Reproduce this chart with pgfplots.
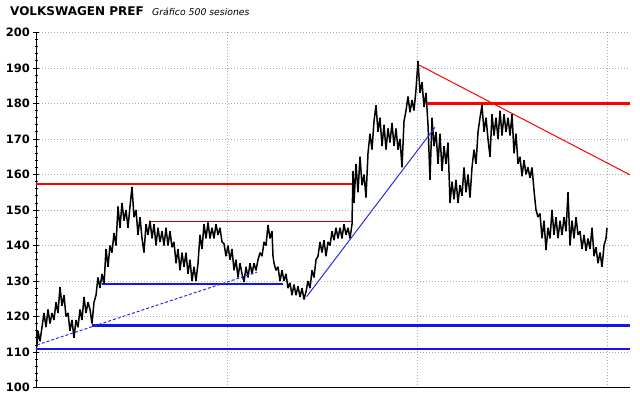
\documentclass[border=0pt]{standalone}
\usepackage{pgfplots}
\pgfplotsset{compat=1.18}
\usepackage{fontspec}
\setmainfont{DejaVu Sans}
\definecolor{gridc}{RGB}{170,170,195}
\definecolor{lblue}{RGB}{40,40,240}
\definecolor{hblue}{RGB}{20,20,235}
\definecolor{dred}{RGB}{205,0,0}
\begin{document}
\begin{tikzpicture}[x=1bp,y=1bp]
\useasboundingbox (0,0) rectangle (640,398);
\node[anchor=base west,inner sep=0pt,font=\fontsize{12bp}{14bp}\selectfont\bfseries] at (10,383) {VOLKSWAGEN PREF};
\node[anchor=base west,inner sep=0pt,font=\fontsize{9.3bp}{11bp}\selectfont\itshape] at (152,383) {Gráfico 500 sesiones};
\begin{axis}[at={(36bp,10.5bp)}, anchor=south west, scale only axis,
  width=594bp, height=355bp,
  xmin=36, xmax=630, ymin=100, ymax=200,
  axis lines*=left,
  axis line style={black, line width=1bp},
  ytick={100,110,...,200}, minor y tick num=4,
  tick align=center, major tick length=6bp, minor tick length=3bp,
  tick style={black, line width=0.8bp},
  xtick={227,417,607}, xticklabels={}, xtick style={draw=none},
  xmajorgrids, ymajorgrids,
  grid style={gridc, line width=0.8bp, dash pattern=on 1bp off 2bp},
  /pgf/number format/assume math mode=true,
  yticklabel style={font=\fontsize{11.5bp}{13bp}\selectfont\bfseries, inner sep=0pt, xshift=-3bp},
  clip=true,
]
% price series (zigzag of session highs and lows), x in chart pixels
\addplot[black, line width=1.5bp, line join=bevel] coordinates {
(36,118)(37,111.5)(38,116)(40,113)(42,117)(44,121)(46,117)(48,122)(50,118)(52,121)(54,119)
(56,124)(58,121)(60,128.3)(62,123)(64,126)(66,120)(68,121)(70,116)(72,119)(74,114)(76,119)
(78,117)(80,122)(82,119)(84,125.5)(86,121)(88,124)(90,122)(92,118)(94,124)(96,126)
(98,131)(100,128)(102,132)(104,129)(106,139)(108,134)(110,140)(112,138)(114,143.5)(116,140)
(118,151)(120,145)(122,152)(124,147)(126,150)(128,145)(130,151)(132,156.5)(134,148)
(136,150)(138,143)(140,148)(142,142)(144,138)(146,146)(148,143)(150,147)(152,142)(154,146)
(156,140)(158,145)(160,141)(162,144)(164,140)(166,145)(168,140)(170,144)(172,139.5)
(174,141)(176,135)(178,139)(180,133)(182,138)(184,134)(186,138)(188,132)(190,136)(192,130)(194,134)
(196,130)(198,135)(200,143)(202,139)(204,146)(206,142)(208,146.5)(210,142)(212,145)(214,142)(216,146)(218,143)(220,145)(222,141)
(224,140.5)(226,137)(228,140)(230,136)(232,139)(234,133)(236,136)(238,131)(240,135)(242,132)(244,129.7)
(246,134)(248,131)(250,135)(252,132)(254,135)(256,133)
(258,136)(260,138)(262,137)(264,141)(266,140)(268,145.8)(270,142)(272,144)
(273,137)(274,135)(276,133)(278,134)(280,130)(282,133)(284,130)(286,132)
(288,128)(290,129.5)(292,126)(294,129)(296,126)(298,128.5)(300,125.5)(302,128)(304,124.8)(306,127)
(308,130)(310,128)(312,133)(314,131)(316,136)
(318,137)(320,141)(322,138)(324,141.5)(326,137)(328,141)(330,140)
(332,144)(334,141.5)(336,145)(338,142)(340,145)(342,142)(344,146)(346,143)(348,145)(350,142)
(352,146)(353,161)(354,152)(356,163)(358,155)(360,165)(362,157)(364,160)(366,153.5)
(368,166)(370,171.5)(372,167)(374,175)(376,179.5)(378,172)(380,176)
(382,168)(384,174)(386,167)(388,173)(390,169)(392,174.5)(394,168)(396,173)(398,167)(400,170)(402,162)(404,175)
(406,178)(408,182)(410,177.5)(412,181)(414,178)(416,184)(418,192)(420,183)
(422,186)(424,179)(426,183)(428,174)(430,158.5)(432,176)(434,168)(436,172)
(438,163)(440,171.5)(442,161)(444,168)(446,163)(448,169)
(450,152)(452,158)(454,153)(456,158.5)(458,152)(460,157)
(462,154)(464,162)(466,155)(468,160)(470,153.5)
(472,162)(474,167)(476,163)(478,172)(480,176)(482,179.5)(484,172)(486,176)(488,170)(490,165)
(492,177)(494,171)(496,176)(498,170)(500,178)(502,171)(504,177)(506,172)(508,176)(510,171)(512,177)
(514,166)(516,171.5)(518,163)(520,165)(522,159.5)(524,164)(526,160)(528,162)(530,159)(532,162)
(534,155.5)(536,150)(538,148)(540,149)(542,142)(544,147)(546,138.7)(548,145)(550,142)
(552,150)(554,143)(556,148)(558,142)(560,147)(562,143)(564,148)(566,144)(568,155)(570,140)
(572,147)(574,142)(576,148)(578,143)(580,144)
(582,139)(584,143)(586,138.5)(588,142)(590,139)(592,145)
(594,137)(596,139.5)(598,135)(600,138)(602,134)(604,140)(606,142)(607,145)
};
% support / resistance lines
\addplot[red, line width=2.6bp] coordinates {(36,157.3)(352,157.3)};
\addplot[dred, line width=1bp] coordinates {(151,146.7)(352,146.7)};
\addplot[hblue, line width=2.6bp] coordinates {(102,129.1)(283,129.1)};
\addplot[hblue, line width=2.6bp] coordinates {(92,117.4)(630,117.4)};
\addplot[hblue, line width=2.6bp] coordinates {(36,110.8)(630,110.8)};
\addplot[red, line width=2.6bp] coordinates {(427,180.05)(630,180.05)};
% trend lines
\addplot[lblue, line width=1bp, dash pattern=on 3bp off 2bp] coordinates {(37,112)(257,132.5)};
\addplot[lblue, line width=1bp] coordinates {(306.7,125.6)(435,173.3)};
\addplot[red, line width=1bp] coordinates {(419.3,190.8)(630,159.9)};
\end{axis}
\end{tikzpicture}
\end{document}
